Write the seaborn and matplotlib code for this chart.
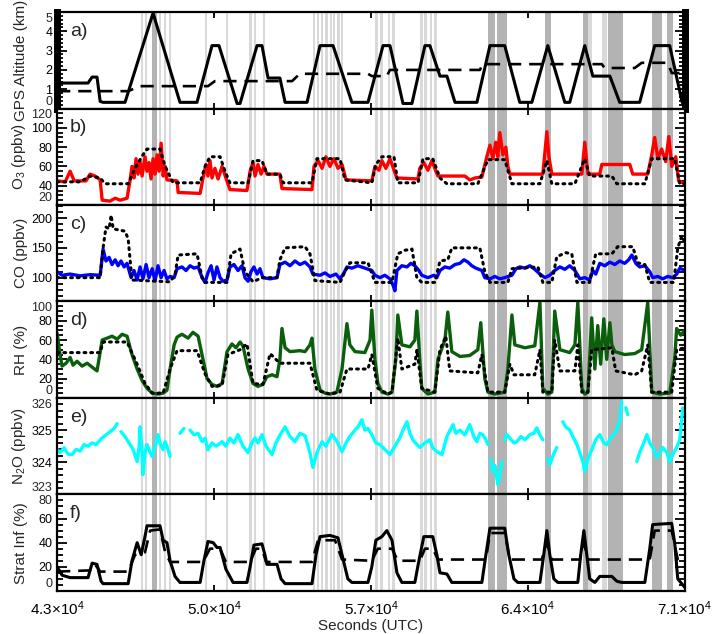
import numpy as np
import pandas as pd
import matplotlib
matplotlib.use("Agg")
import matplotlib.pyplot as plt
from matplotlib.ticker import MultipleLocator
import seaborn as sns

nan = np.nan

# a) GPS altitude (km), aircraft (solid) and reference level (dashed)
alt_t = [43000, 44380, 44560, 44780, 44920, 45050, 46030, 47280, 48480, 49240, 49910, 50220,
         51030, 51160, 51920, 52140, 52410, 52940, 53170, 54150, 54730, 55310, 56150, 56870,
         57540, 57850, 58430, 58830, 59410, 59630, 60080, 60390, 60750, 61730, 62310, 62970,
         63640, 64180, 64890, 65650, 65870, 66540, 66900, 67660, 68100, 68990, 69660, 70330,
         70870, 71000]
alt_km = [1.32, 1.32, 1.63, 1.63, 0.37, 0.32, 0.32, 4.95, 0.32, 0.32, 3.26, 3.26,
          0.26, 0.26, 3.26, 3.26, 1.58, 1.58, 0.32, 0.32, 3.26, 3.26, 0.32, 0.32,
          3.26, 3.26, 0.26, 0.26, 3.26, 3.26, 1.68, 1.68, 0.32, 0.32, 3.26, 3.26,
          0.32, 0.32, 3.26, 0.32, 0.32, 3.26, 1.68, 1.68, 0.32, 0.32, 3.26, 3.26,
          0.4, 0.0]
alt_ref_t = [43000, 46170, 46700, 49730, 50040, 53480, 53830, 56870, 57040, 57710, 57850,
             61860, 61990, 67300, 67430, 68770, 69080, 70240, 70420, 71000]
alt_ref_km = [0.9, 0.9, 1.16, 1.16, 1.42, 1.42, 1.8, 1.8, 1.68, 1.68, 2.0,
              2.0, 2.3, 2.3, 2.1, 2.1, 2.37, 2.37, 1.84, 1.84]

# b) O3 (ppbv)
o3_t = [43000, 43360, 43580, 43760, 44290, 44470, 44690, 44920, 45010, 45360, 45590, 45810,
        46120, 46250, 46340, 46430, 46520, 46610, 46700, 46790, 46920, 47010, 47100, 47190,
        47280, 47370, 47460, 47550, 47640, 47730, 47820, 47900, 48350, 48400, 49380, 49510,
        49640, 49730, 49820, 49910, 50040, 50180, 50360, 50530, 50710, 51470, 51610, 51740,
        51830, 51960, 52100, 52230, 52360, 52940, 53030, 54370, 54460, 54640, 54820, 54990,
        55170, 55350, 55530, 55710, 55890, 57040, 57180, 57360, 57490, 57670, 57850, 58030,
        58160, 59100, 59180, 59360, 59540, 59720, 59900, 59990, 61190, 61410, 61640, 61950,
        62170, 62310, 62440, 62570, 62660, 62750, 62890, 63020, 63110, 63200, 64670, 64850,
        64940, 65070, 66410, 66540, 66680, 67210, 67300, 68550, 68680, 69350, 69530, 69660,
        69800, 69970, 70150, 70290, 70420, 70600, 70730, 71000]
o3 = [45, 44, 55, 45, 45, 52, 50, 46, 25, 24, 27, 25,
      27, 45, 60, 48, 68, 52, 65, 50, 70, 55, 64, 47,
      68, 52, 72, 55, 84, 50, 60, 46, 45, 33, 32, 48,
      62, 50, 66, 48, 58, 47, 60, 48, 36, 35, 55, 64,
      50, 62, 52, 60, 52, 52, 37, 36, 60, 66, 58, 70,
      60, 68, 58, 62, 46, 45, 60, 56, 66, 58, 68, 56,
      48, 47, 58, 64, 56, 66, 55, 50, 50, 46, 48, 49,
      70, 82, 68, 85, 70, 95, 72, 80, 60, 52, 52, 96,
      70, 52, 52, 85, 52, 52, 62, 62, 52, 52, 72, 90,
      68, 78, 65, 91, 60, 70, 45, 42]
o3_ref_t = [43000, 44030, 44470, 44920, 45140, 46170, 46520, 46830, 47010, 47590, 47820, 48170,
            49380, 49600, 49820, 50270, 50490, 50710, 51520, 51740, 52140, 52360, 52940, 53080,
            54370, 54590, 55620, 55840, 57040, 57220, 57490, 58030, 58200, 59100, 59320, 59760,
            60080, 60390, 61770, 62220, 62970, 63290, 64540, 64850, 65070, 66100, 66540, 66760,
            67750, 67970, 69220, 69530, 70550, 70780, 71000]
o3_ref = [44, 44, 50, 48, 42, 42, 60, 72, 78, 78, 60, 43,
          43, 60, 70, 70, 55, 43, 43, 66, 66, 52, 52, 43,
          43, 68, 68, 46, 43, 62, 70, 70, 43, 43, 68, 68,
          48, 42, 42, 67, 67, 42, 42, 66, 42, 42, 68, 50,
          50, 42, 42, 68, 68, 42, 42]

# c) CO (ppbv)
co_t = [43000, 43220, 43580, 44030, 44470, 44920, 45050, 45180, 45320, 45450, 45590, 45720,
        45850, 45990, 46120, 46300, 46430, 46570, 46700, 46830, 46970, 47100, 47240, 47370,
        47500, 47640, 47770, 47900, 48040, 48220, 48350, 48570, 48750, 48930, 49110, 49290,
        49470, 49600, 49730, 49870, 50000, 50130, 50270, 50400, 50580, 50710, 50890, 51070,
        51250, 51380, 51520, 51650, 51780, 51920, 52050, 52180, 52500, 52810, 52940, 53170,
        53390, 53610, 53830, 54060, 54280, 54410, 54730, 54950, 55170, 55440, 55620, 55800,
        55930, 56150, 56420, 56730, 57040, 57180, 57400, 57620, 57850, 57980, 58070, 58160,
        58380, 58610, 58780, 58960, 59140, 59270, 59540, 59810, 59940, 60080, 60300, 60520,
        60750, 60970, 61150, 61330, 61500, 61680, 61950, 62080, 62310, 62530, 62750, 62970,
        63290, 63470, 63640, 63870, 64090, 64310, 64540, 64760, 64980, 65200, 65430, 65650,
        65870, 66100, 66320, 66540, 66760, 66900, 67030, 67210, 67430, 67660, 67880, 68100,
        68320, 68500, 68640, 68820, 68990, 69220, 69440, 69570, 69800, 70020, 70240, 70460,
        70640, 70780, 71000]
co = [110, 104, 106, 103, 105, 104, 148, 128, 134, 122, 130, 120,
      128, 118, 124, 100, 112, 96, 118, 98, 122, 100, 115, 95,
      120, 100, 112, 98, 102, 100, 115, 118, 112, 120, 116, 118,
      100, 92, 108, 120, 96, 118, 100, 94, 96, 118, 122, 112,
      120, 100, 94, 110, 118, 106, 115, 100, 98, 100, 122, 126,
      120, 128, 122, 126, 118, 106, 104, 108, 102, 106, 98, 108,
      118, 116, 120, 116, 112, 104, 100, 104, 98, 88, 78, 112,
      120, 118, 124, 120, 112, 104, 100, 104, 100, 112, 118, 116,
      122, 124, 130, 126, 120, 116, 112, 100, 98, 102, 98, 100,
      104, 115, 118, 116, 120, 114, 106, 100, 104, 112, 118, 114,
      120, 112, 98, 100, 96, 112, 106, 124, 120, 126, 122, 128,
      124, 130, 138, 124, 118, 120, 110, 100, 102, 98, 102, 100,
      106, 116, 112]
co_ref_t = [43000, 44920, 45050, 45180, 45320, 45410, 45500, 46030, 46170, 46340, 48040, 48260,
            48400, 49240, 49470, 49600, 50580, 50760, 51160, 51380, 51740, 52140, 52810, 52940,
            53170, 54060, 54280, 54500, 55620, 55840, 56060, 56870, 57180, 57940, 58200, 58520,
            58830, 59050, 59270, 59850, 60080, 60430, 60610, 61860, 62080, 62310, 63110, 63290,
            64450, 64670, 65070, 65290, 65690, 65960, 66190, 66760, 66850, 67030, 67750, 68010,
            68680, 68900, 69220, 69440, 70510, 70690, 70870, 71000]
co_ref = [100, 100, 150, 185, 182, 205, 182, 178, 165, 96, 93, 105,
          138, 140, 100, 92, 92, 140, 148, 110, 93, 100, 100, 130,
          150, 152, 140, 95, 92, 110, 125, 125, 92, 92, 140, 146,
          148, 100, 92, 92, 128, 130, 150, 150, 110, 92, 92, 115,
          118, 92, 92, 135, 142, 140, 92, 92, 110, 140, 140, 152,
          152, 125, 122, 92, 92, 150, 170, 160]

# d) RH (%)
rh_t = [43000, 43130, 43220, 43400, 43580, 43710, 43890, 44110, 44340, 44560, 44780, 45010,
        45230, 45450, 45680, 45900, 46120, 46340, 46570, 46790, 47010, 47240, 47500, 47730,
        47900, 48040, 48220, 48350, 48570, 48840, 49060, 49290, 49510, 49690, 49910, 50130,
        50360, 50580, 50800, 50980, 51160, 51290, 51520, 51740, 51960, 52180, 52360, 52590,
        52810, 52940, 53030, 53170, 53390, 53830, 54060, 54280, 54370, 54500, 54730, 54950,
        55170, 55480, 55710, 55930, 56060, 56290, 56730, 56960, 57040, 57180, 57310, 57490,
        57760, 57940, 58110, 58200, 58380, 58740, 58960, 59050, 59180, 59270, 59540, 59850,
        59990, 60300, 60430, 60610, 60970, 61410, 61770, 61900, 62080, 62220, 62530, 62970,
        63110, 63290, 63420, 63870, 64310, 64540, 64670, 64890, 65070, 65200, 65430, 65870,
        66100, 66230, 66410, 66540, 66680, 66850, 66990, 67120, 67250, 67390, 67520, 67660,
        67750, 67880, 68320, 68770, 69080, 69350, 69530, 69890, 70330, 70550, 70640, 70820,
        71000]
rh = [67, 45, 33, 36, 42, 34, 38, 33, 36, 32, 28, 60,
      62, 64, 61, 66, 64, 45, 30, 18, 10, 5, 4, 5,
      8, 30, 55, 63, 66, 62, 68, 64, 40, 20, 14, 12,
      15, 48, 56, 52, 58, 54, 30, 15, 12, 14, 22, 24,
      22, 40, 72, 52, 48, 49, 48, 55, 62, 30, 8, 5,
      4, 6, 30, 77, 55, 48, 47, 60, 91, 40, 15, 6,
      4, 6, 40, 86, 55, 53, 60, 90, 40, 10, 4, 6,
      40, 60, 89, 48, 43, 44, 50, 78, 20, 6, 4, 6,
      30, 86, 55, 52, 54, 99, 10, 4, 6, 90, 50, 47,
      55, 99, 10, 4, 6, 83, 30, 75, 35, 82, 40, 78,
      55, 48, 45, 46, 50, 99, 6, 4, 5, 40, 72, 65,
      70]
rh_ref_t = [43000, 44920, 45050, 46120, 46570, 46920, 47240, 47730, 48040, 48350, 49240, 49600,
            49910, 50360, 50620, 51160, 51470, 51740, 52180, 52500, 52760, 52940, 54280, 54590,
            55170, 55620, 55930, 56870, 57040, 57310, 57760, 57940, 58200, 58380, 58960, 59050,
            59270, 59850, 60080, 60340, 60520, 61770, 61950, 62220, 62970, 63200, 63380, 64310,
            64540, 64670, 65070, 65200, 65430, 66100, 66230, 66410, 66680, 66850, 67750, 67920,
            68770, 69080, 69350, 69530, 70420, 70640, 71000]
rh_ref = [47, 47, 58, 58, 35, 15, 5, 5, 30, 49, 49, 25,
          12, 13, 45, 50, 56, 15, 14, 46, 40, 36, 36, 8,
          4, 6, 30, 30, 45, 10, 4, 6, 62, 30, 35, 50,
          10, 6, 50, 64, 28, 26, 45, 6, 6, 35, 24, 24,
          50, 6, 6, 60, 28, 28, 55, 6, 6, 50, 52, 28,
          24, 28, 55, 6, 6, 50, 52]

# e) N2O (ppbv), nan marks a gap in the record
n2o_t = [43000, 43130, 43310, 43490, 43670, 43850, 44030, 44200, 44380, 44560, 44740, 45010,
         45180, 45360, 45540, 45680, nan,
         45850, 46030, 46210, 46390, 46570, 46660, 46700, 46790, 46830, 46920, 47010, 47150,
         47240, 47370, 47500, 47590, 47730, 47820, 47900, 48040, nan,
         48480, 48660, nan,
         48930, 49110, 49290, 49470, 49600, 49730, 49910, 50090, 50360, 50530, 50710, 50890,
         51070, 51290, 51520, 51690, 51830, 51960, 52140, 52320, 52590, 52760, 52990, 53170,
         53390, 53610, 53830, 54060, 54280, 54410, 54590, 54820, 54990, 55260, 55440, 55710,
         55890, 56060, 56290, 56420, 56600, 56730, 56870, 57040, 57220, 57400, 57620, 57850,
         58070, 58290, 58430, 58610, 58740, 58870, 59050, 59180, 59410, 59630, 59760, 59940,
         60170, 60390, 60660, 60790, 60970, 61190, 61410, 61590, 61730, 61860, 61990, 62130,
         62220, nan,
         62350, 62440, 62530, 62660, 62750, 62840, nan,
         62970, 63060, 63200, 63380, 63510, 63690, 63870, 64090, 64270, 64400, 64540, 64670, nan,
         64890, 64980, 65120, 65290, nan,
         65560, 65690, 65870, 66010, 66190, 66320, 66460, 66540, 66680, 66850, 67030, 67210,
         67390, 67520, 67750, 67970, 68100, 68190, nan,
         68370, 68460, nan,
         68860, 68990, 69170, 69310, 69440, 69620, 69750, 69890, 70020, 70200, 70330, 70510,
         70640, 70780, 70910]
n2o = [324.4, 324.3, 324.45, 324.25, 324.24, 324.4, 324.35, 324.55, 324.5, 324.6, 324.55, 324.76,
       324.85, 324.95, 325.05, 325.2, nan,
       324.95, 324.8, 324.6, 324.4, 324.02, 324.5, 325.1, 324.3, 323.62, 324.3, 324.55, 324.3,
       324.18, 324.5, 324.86, 324.6, 324.39, 324.64, 324.5, 324.18, nan,
       324.9, 325.05, nan,
       325.0, 324.85, 324.9, 324.64, 324.75, 324.39, 324.6, 324.5, 324.64, 324.5, 324.75, 324.6,
       324.86, 324.5, 324.3, 324.6, 324.76, 324.6, 324.86, 324.5, 324.24, 324.6, 324.9, 325.1,
       324.8, 324.64, 324.9, 324.83, 324.3, 323.84, 324.3, 324.64, 324.5, 324.86, 324.7, 324.33,
       324.6, 324.8, 325.0, 325.1, 325.32, 325.0, 325.05, 324.86, 324.6, 324.55, 324.4, 324.24,
       324.5, 324.76, 325.0, 325.26, 324.9, 324.7, 324.55, 324.46, 324.6, 324.7, 324.45, 324.33,
       324.24, 324.8, 325.17, 324.9, 325.0, 324.85, 325.17, 324.8, 324.64, 324.9, 324.86, 324.7,
       324.55, nan,
       324.1, 323.71, 323.9, 323.31, 323.6, 324.02, nan,
       324.7, 324.86, 324.75, 324.6, 324.64, 324.8, 324.7, 324.86, 324.9, 325.07, 324.85, 324.7, nan,
       324.1, 323.93, 324.2, 324.46, nan,
       325.26, 325.1, 325.0, 324.8, 324.55, 324.3, 324.0, 323.71, 324.1, 324.39, 324.7, 324.86,
       324.6, 324.55, 324.8, 325.0, 325.3, 325.88, nan,
       325.7, 325.48, nan,
       324.02, 324.3, 324.6, 324.86, 324.6, 324.4, 324.15, 324.3, 324.46, 324.3, 324.02, 324.3,
       324.46, 324.7, 325.69]

# f) stratospheric influence (%)
si_t = [43000, 43130, 43220, 43580, 44380, 44560, 44780, 44960, 45050, 46170, 46340, 46570,
        46750, 46920, 47010, 47590, 47730, 47900, 48040, 48260, 48480, 49380, 49550, 49730,
        49960, 50130, 50270, 50530, 50850, 51470, 51610, 51780, 52140, 52270, 52360, 52810,
        52990, 53170, 54370, 54550, 54730, 55170, 55530, 55710, 55970, 56150, 56870, 57040,
        57220, 57490, 57710, 57940, 58160, 58380, 58960, 59140, 59360, 59760, 59940, 60080,
        60390, 60610, 61950, 62130, 62310, 62970, 63150, 63380, 63550, 64540, 64710, 64850,
        64980, 65160, 65340, 66230, 66360, 66500, 66630, 66760, 66990, 67210, 67750, 67970,
        68190, 69220, 69440, 69570, 70420, 70550, 70690, 70910, 71000]
si = [20, 16, 13, 11, 11, 23, 22, 8, 6, 6, 25, 40,
      30, 45, 54, 54, 42, 40, 25, 12, 7, 7, 25, 41,
      40, 36, 36, 18, 7, 7, 20, 38, 39, 30, 22, 22,
      10, 6, 6, 30, 45, 46, 44, 30, 10, 7, 7, 20,
      42, 45, 50, 42, 15, 7, 7, 25, 45, 45, 30, 15,
      14, 7, 7, 30, 52, 52, 30, 10, 7, 7, 30, 50,
      30, 10, 7, 7, 30, 50, 30, 10, 7, 12, 12, 8,
      7, 7, 35, 55, 56, 40, 10, 5, 3]
si_ref_t = [43000, 44470, 44610, 44780, 44920, 46170, 46480, 46920, 47150, 47590, 47820, 48040,
            49510, 49820, 50270, 50530, 51610, 51870, 52140, 52320, 54370, 54640, 55400, 55710,
            57040, 57310, 57940, 58200, 59180, 59410, 59760, 59990, 62130, 62310, 62970, 63200,
            64620, 64850, 65070, 66320, 66500, 66680, 69440, 69660, 70420, 70690, 71000]
si_ref = [16, 17, 22, 20, 16, 16, 30, 32, 50, 51, 32, 24,
          24, 35, 35, 24, 24, 35, 35, 24, 24, 42, 42, 26,
          25, 35, 35, 25, 25, 35, 35, 26, 26, 48, 48, 26,
          26, 40, 26, 26, 40, 26, 26, 50, 50, 26, 20]

# shaded sampling periods (start, end, dark?)
band_lo = [46750, 46920, 47550, 47770, 47990, 49600, 50530, 51560, 51780, 52190, 54410, 54590,
           54770, 54950, 55170, 55310, 55480, 55660, 57180, 57400, 57760, 57940, 59190, 59360,
           59630, 59810, 66680, 67300,
           47240, 62220, 62620, 64760, 66450, 67570, 69530, 70200]
band_hi = [46830, 47010, 47640, 47860, 48080, 49690, 50620, 51700, 51870, 52270, 54500, 54680,
           54860, 55080, 55260, 55400, 55620, 55750, 57310, 57540, 57850, 58070, 59320, 59500,
           59720, 59940, 66860, 67520,
           47460, 62530, 63070, 65030, 66680, 68240, 69980, 70470]
band_dark = [False] * 28 + [True] * 8

x_ticks = [43000, 50000, 57000, 64000, 71000]
x_labels = [r'4.3$\times$10$^4$', r'5.0$\times$10$^4$', r'5.7$\times$10$^4$',
            r'6.4$\times$10$^4$', r'7.1$\times$10$^4$']

sns.set_style("ticks")
plt.rcParams['font.family'] = ['Liberation Sans', 'DejaVu Sans']
plt.rcParams['mathtext.fontset'] = 'custom'
plt.rcParams['mathtext.rm'] = 'Liberation Sans'
plt.rcParams['mathtext.it'] = 'Liberation Sans:italic'

fig, axes = plt.subplots(6, 1, figsize=(7.14, 6.34), dpi=100, sharex=True,
                         gridspec_kw=dict(hspace=0))
fig.subplots_adjust(left=0.08, right=0.959, top=0.981, bottom=0.068)

dot = dict(color='black', lw=2.2, linestyle=(0, (0.6, 1.6)), dash_capstyle='round')
dash = dict(color='black', lw=1.9, linestyle=(0, (5, 3)))
tick_fs = 9

panels = [
    ('a)', 'GPS Altitude (km)', (0, 5), [0, 1, 2, 3, 4, 5], 0.2),
    ('b)', 'O$_3$ (ppbv)', (20, 120), [20, 40, 60, 80, 100, 120], 5),
    ('c)', 'CO (ppbv)', (60, 222), [100, 150, 200], 10),
    ('d)', 'RH (%)', (0, 100), [0, 20, 40, 60, 80, 100], 5),
    ('e)', 'N$_2$O (ppbv)', (323, 326), [323, 324, 325, 326], 0.2),
    ('f)', 'Strat Inf (%)', (0, 80), [0, 20, 40, 60, 80], 5),
]

for ax in axes:
    for lo, hi, dark in zip(band_lo, band_hi, band_dark):
        ax.axvspan(lo, hi, color='#b3b3b3' if dark else '#d9d9d9', lw=0, zorder=0)

# a) altitude
sns.lineplot(x=alt_ref_t, y=alt_ref_km, ax=axes[0], estimator=None, sort=False, **dash)
sns.lineplot(x=alt_t, y=alt_km, ax=axes[0], estimator=None, sort=False, color='black', lw=2.2)

# b) O3
sns.lineplot(x=o3_t, y=o3, ax=axes[1], estimator=None, sort=False, color='#ff0000', lw=2.4)
sns.lineplot(x=o3_ref_t, y=o3_ref, ax=axes[1], estimator=None, sort=False, **dot)

# c) CO
sns.lineplot(x=co_t, y=co, ax=axes[2], estimator=None, sort=False, color='#0000ff', lw=2.4)
sns.lineplot(x=co_ref_t, y=co_ref, ax=axes[2], estimator=None, sort=False, **dot)

# d) RH
sns.lineplot(x=rh_t, y=rh, ax=axes[3], estimator=None, sort=False, color='#0b5e0b', lw=2.4)
sns.lineplot(x=rh_ref_t, y=rh_ref, ax=axes[3], estimator=None, sort=False, **dot)

# e) N2O, split into segments at the gaps
n2o_df = pd.DataFrame({'t': n2o_t, 'v': n2o})
n2o_df['seg'] = n2o_df['t'].isna().cumsum()
n2o_df = n2o_df.dropna()
sns.lineplot(data=n2o_df, x='t', y='v', units='seg', ax=axes[4], estimator=None, sort=False,
             color='#00ffff', lw=2.4)

# f) stratospheric influence
sns.lineplot(x=si_ref_t, y=si_ref, ax=axes[5], estimator=None, sort=False, **dash)
sns.lineplot(x=si_t, y=si, ax=axes[5], estimator=None, sort=False, color='black', lw=2.2)

for ax, (letter, ylab, ylim, yticks, minor) in zip(axes, panels):
    ax.set_xlim(43000, 71000)
    ax.set_ylim(*ylim)
    ax.set_yticks(yticks)
    # edge labels are written separately, tucked inside the panel as in the original
    labels = [str(v) for v in yticks]
    if yticks[0] == ylim[0]:
        labels[0] = ''
        ax.text(-0.0075, 0.006, str(yticks[0]), transform=ax.transAxes, ha='right',
                va='bottom', fontsize=tick_fs)
    if yticks[-1] == ylim[1]:
        labels[-1] = ''
        ax.text(-0.0075, 0.994, str(yticks[-1]), transform=ax.transAxes, ha='right',
                va='top', fontsize=tick_fs)
    ax.set_yticklabels(labels)
    ax.yaxis.set_minor_locator(MultipleLocator(minor))
    ax.set_xticks(x_ticks)
    ax.tick_params(axis='both', which='both', direction='in', top=True, right=True,
                   labelsize=tick_fs, width=1.3, colors='black', pad=3.5)
    ax.tick_params(axis='y', which='major', length=7)
    ax.tick_params(axis='y', which='minor', length=4)
    ax.tick_params(axis='x', which='major', length=4)
    ax.set_ylabel(ylab, fontsize=11)
    ax.yaxis.set_label_coords(-0.047, 0.5)
    ax.set_xlabel('')
    for sp in ax.spines.values():
        sp.set_linewidth(1.6)
        sp.set_color('black')
    ax.text(0.02, 0.8, letter, transform=ax.transAxes, fontsize=14, va='center', ha='left')

axes[0].spines['left'].set_linewidth(5)
axes[0].spines['right'].set_linewidth(5)

axes[-1].set_xticklabels(x_labels)
axes[-1].tick_params(axis='x', labelsize=11, pad=6)
axes[-1].set_xlabel('Seconds (UTC)', fontsize=11, labelpad=1)

fig.savefig('out.png', dpi=100)
